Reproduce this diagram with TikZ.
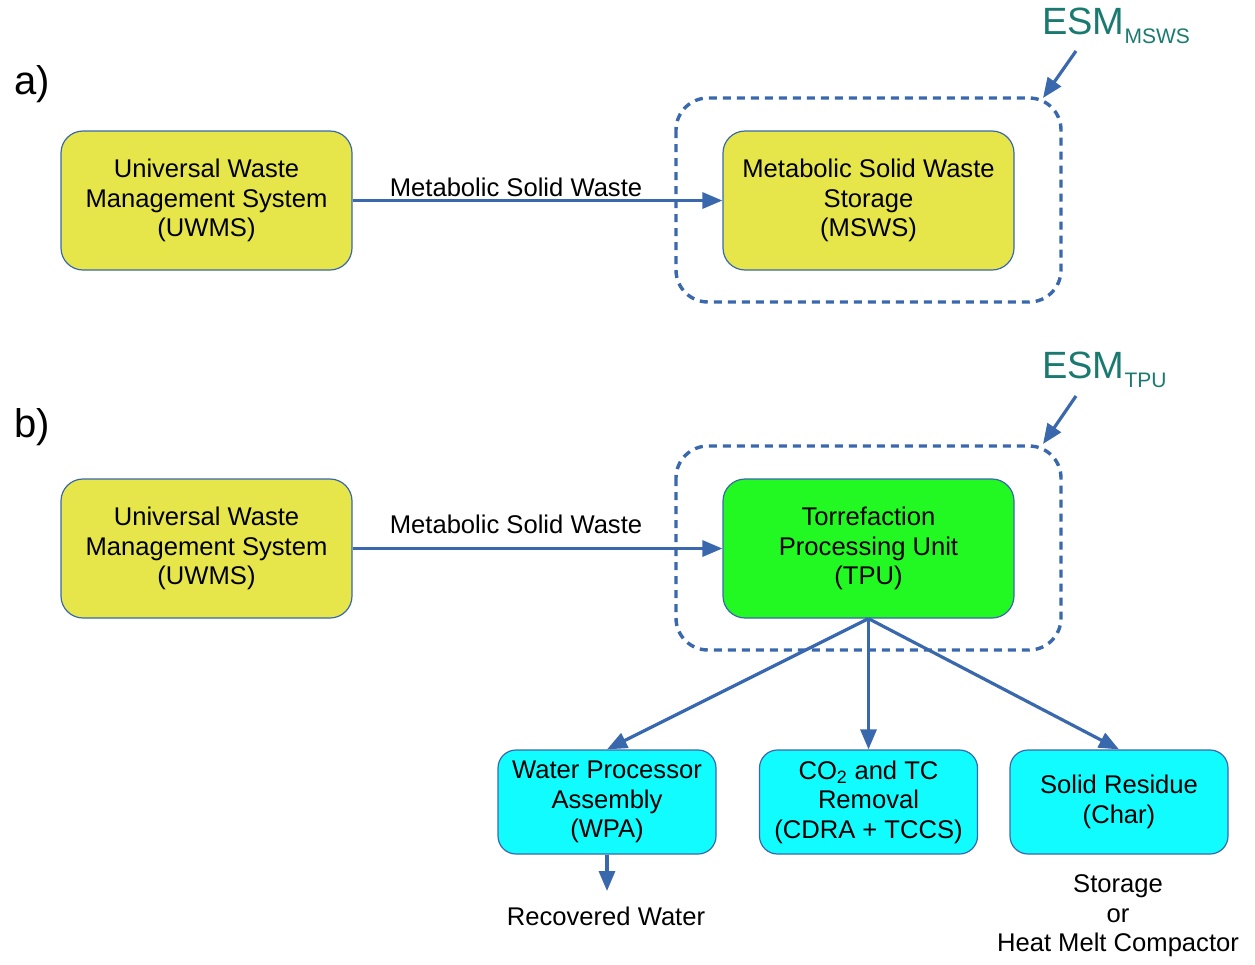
\documentclass[tikz,border=0pt]{standalone}
\usepackage{fontspec}
\setmainfont{Liberation Sans}
\usetikzlibrary{arrows.meta}
\definecolor{boxyellow}{HTML}{E6E64B}
\definecolor{boxgreen}{HTML}{22F822}
\definecolor{boxcyan}{HTML}{11FCFF}
\definecolor{edgeblue}{HTML}{3A68AD}
\definecolor{esmteal}{HTML}{1A7A70}
\tikzset{
  bigbox/.style={draw=edgeblue, line width=1.2pt, rounded corners=22pt, minimum width=291pt, minimum height=139pt, align=center, font=\fontsize{25.6}{29.5}\selectfont, inner sep=0pt},
  smallbox/.style={draw=edgeblue, line width=1.2pt, rounded corners=18pt, fill=boxcyan, minimum width=218pt, minimum height=104pt, align=center, font=\fontsize{25.6}{29.5}\selectfont, inner sep=0pt},
  flow/.style={draw=edgeblue, line width=3.2pt, -{Triangle[length=20pt,width=16pt]}},
  esmbox/.style={draw=edgeblue, line width=3.4pt, dash pattern=on 8pt off 6pt, rounded corners=32pt},
  lbl/.style={font=\fontsize{25.6}{29.5}\selectfont, align=center, inner sep=0pt},
  esm/.style={font=\fontsize{38}{40}\selectfont, text=esmteal, anchor=west, inner sep=0pt},
  part/.style={font=\fontsize{40}{44}\selectfont, inner sep=0pt}
}
\begin{document}
\begin{tikzpicture}[x=1pt,y=-1pt]
\useasboundingbox (0,0) rectangle (1255,964);
% part a
\node[part] (pa) at (32,84) {a)};
\draw[esmbox] (676,98) rectangle (1061,302);
\node[bigbox, fill=boxyellow] (uwmsa) at (206.5,200.5) {Universal Waste\\Management System\\(UWMS)};
\node[bigbox, fill=boxyellow] (msws) at (868.5,200.5) {Metabolic Solid Waste\\Storage\\(MSWS)};
\draw[flow] (uwmsa.east) -- (msws.west);
\node[lbl] (mswl) at (516,187) {Metabolic Solid Waste};
\node[esm] (esma) at (1042,26) {ESM\raisebox{-9pt}{\fontsize{21}{24}\selectfont MSWS}};
\coordinate (esmastart) at (1076,51);
\coordinate (esmaend) at (1043,98);
\draw[flow] (esmastart) -- (esmaend);
% part b
\node[part] (pb) at (32,427) {b)};
\draw[esmbox] (676,446) rectangle (1061,650);
\node[bigbox, fill=boxyellow] (uwmsb) at (206.5,548.5) {Universal Waste\\Management System\\(UWMS)};
\node[bigbox, fill=boxgreen] (tpu) at (868.5,548.5) {Torrefaction\\Processing Unit\\(TPU)};
\draw[flow] (uwmsb.east) -- (tpu.west);
\node[lbl] (mswlb) at (516,524) {Metabolic Solid Waste};
\node[esm] (esmb) at (1042,370) {ESM\raisebox{-9pt}{\fontsize{21}{24}\selectfont TPU}};
\coordinate (esmbstart) at (1076,396);
\coordinate (esmbend) at (1043,444);
\draw[flow] (esmbstart) -- (esmbend);
% outputs
\node[smallbox] (wpa) at (607,802) {Water Processor\\Assembly\\(WPA)};
\node[smallbox] (cdra) at (868.5,802) {CO\textsubscript{2} and TC\\Removal\\(CDRA + TCCS)};
\node[smallbox] (char) at (1119,802) {Solid Residue\\(Char)};
\draw[flow] (tpu.south) -- (wpa.north);
\draw[flow] (tpu.south) -- (cdra.north);
\draw[flow] (tpu.south) -- (char.north);
\node[lbl] (water) at (606,916) {Recovered Water};
\coordinate (waterarrow) at (607,891);
\draw[flow] (wpa.south) -- (waterarrow);
\node[lbl] (store) at (1118,916) {Storage\\or\\Heat Melt Compactor};
\end{tikzpicture}
\end{document}
